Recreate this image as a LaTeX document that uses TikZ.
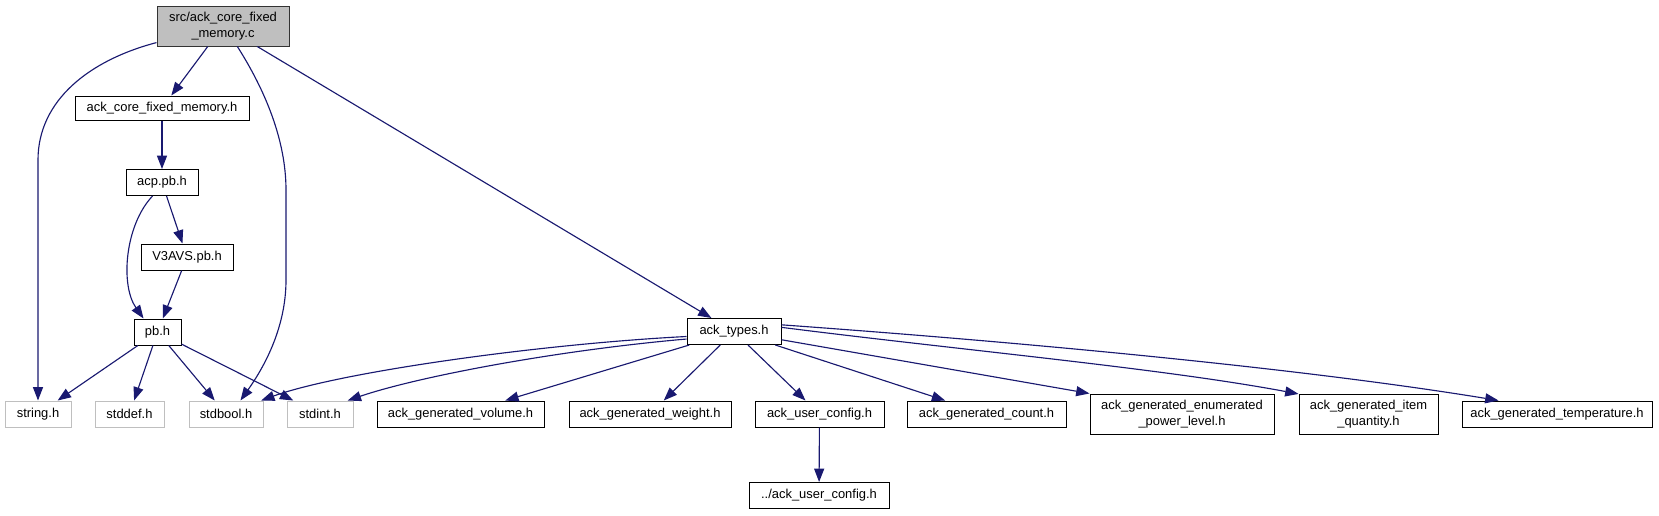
\documentclass[tikz,border=0pt]{standalone}
\usepackage{fontspec}
\setmainfont{Liberation Sans}
\usetikzlibrary{arrows.meta}
\definecolor{edgeblue}{HTML}{191970}
\definecolor{rootgray}{HTML}{BFBFBF}

\begin{document}
\begin{tikzpicture}[x=0.75pt,y=-0.75pt,
  file/.style={rectangle,draw=black,line width=0.75pt,fill=white,inner sep=0pt,
    minimum height=19.5pt,align=center,font=\fontsize{9.7pt}{12pt}\selectfont},
  twoline/.style={minimum height=30pt},
  rootfile/.style={file,twoline,fill=rootgray,draw=black!80},
  sysfile/.style={file,draw=rootgray},
  dep/.style={draw=edgeblue,line width=0.85pt,-{Triangle[length=10pt,width=7.5pt]}}]
\useasboundingbox (0,0) rectangle (1659,515);

% upper part
\node [rootfile,minimum width=99pt] (src) at (223,26) {src/ack\_core\_fixed\\\_memory.c};
\node [file,minimum width=130.5pt,minimum height=18pt] (acfm) at (162,108) {ack\_core\_fixed\_memory.h};
\node [file,minimum width=54pt] (acp) at (162,182.5) {acp.pb.h};
\node [file,minimum width=69pt] (v3avs) at (187,257) {V3AVS.pb.h};
\node [file,minimum width=35.25pt] (pb) at (157.5,332) {pb.h};
\node [file,minimum width=70.5pt] (types) at (734,331.5) {ack\_types.h};

% bottom row
\node [sysfile,minimum width=49.5pt] (string) at (38,414) {string.h};
\node [sysfile,minimum width=51.75pt] (stddef) at (129.5,414) {stddef.h};
\node [sysfile,minimum width=55.5pt] (stdbool) at (226,414) {stdbool.h};
\node [sysfile,minimum width=49.5pt] (stdint) at (320,414) {stdint.h};
\node [file,minimum width=125.25pt] (volume) at (460.5,414) {ack\_generated\_volume.h};
\node [file,minimum width=121.5pt] (weight) at (650,414) {ack\_generated\_weight.h};
\node [file,minimum width=96.75pt] (userconf) at (819.5,414) {ack\_user\_config.h};
\node [file,minimum width=119.25pt] (count) at (986.5,414) {ack\_generated\_count.h};
\node [file,twoline,minimum width=138pt] (enum) at (1182,414) {ack\_generated\_enumerated\\\_power\_level.h};
\node [file,twoline,minimum width=104.25pt] (item) at (1368.5,414) {ack\_generated\_item\\\_quantity.h};
\node [file,minimum width=142.5pt] (temp) at (1557,414) {ack\_generated\_temperature.h};
\node [file,minimum width=105pt] (upconf) at (819,495.5) {../ack\_user\_config.h};

% edges
\draw [dep] (src.194) .. controls (90,60) and (38,100) .. (38,160) -- (string);
\draw [dep] (src) -- (acfm);
\draw [dep] (src.-55) .. controls (265,90) and (286,140) .. (286,190) -- (286,280) .. controls (286,330) and (262,370) .. (stdbool.43);
\draw [dep] (src) -- (types);
\draw [dep] (acfm) -- (acp);
\draw [dep] (acp) -- (v3avs);
\draw [dep] (acp.-125) .. controls (125,225) and (120,285) .. (pb.136);
\draw [dep] (v3avs) -- (pb);
\draw [dep] (pb) -- (string);
\draw [dep] (pb) -- (stddef);
\draw [dep] (pb) -- (stdbool);
\draw [dep] (pb) -- (stdint);
\draw [dep] (types.186) .. controls (540,344) and (340,372) .. (stdbool.21);
\draw [dep] (types.189) .. controls (560,350) and (420,376) .. (stdint.26);
\draw [dep] (types) -- (volume);
\draw [dep] (types) -- (weight);
\draw [dep] (types) -- (userconf);
\draw [dep] (types) -- (count);
\draw [dep] (types) -- (enum.north west);
\draw [dep] (types.5) .. controls (960,350) and (1160,368) .. (item.164);
\draw [dep] (types.8) .. controls (1020,342) and (1300,368) .. (temp.167);
\draw [dep] (userconf) -- (upconf);
\end{tikzpicture}
\end{document}
